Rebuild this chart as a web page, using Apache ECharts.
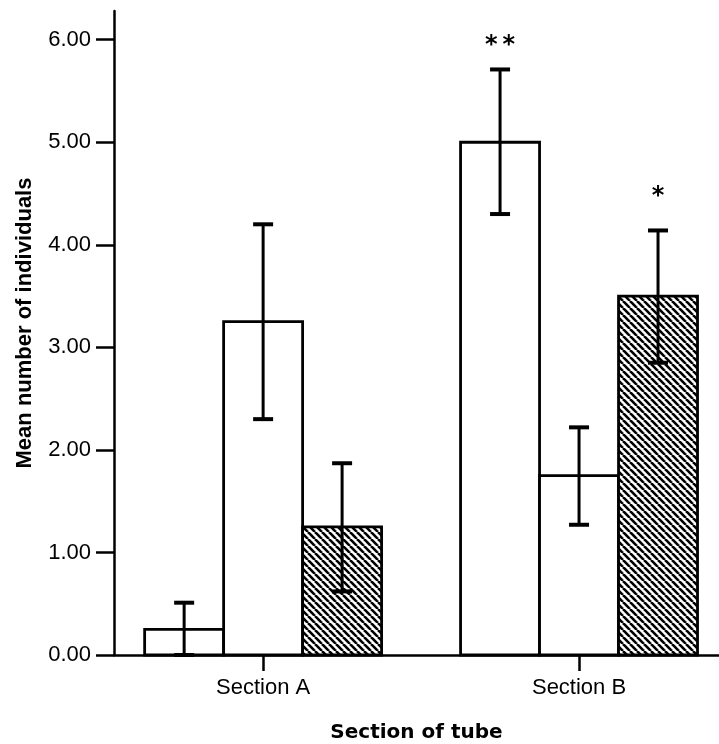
<!DOCTYPE html>
<html>
<head>
<meta charset="utf-8">
<script src="https://cdn.jsdelivr.net/npm/echarts@6/dist/echarts.min.js"></script>
<style>
  html, body { margin: 0; padding: 0; background: #fff; }
  #chart { width: 719px; height: 744px; }
</style>
</head>
<body>
<div id="chart"></div>
<script>
// categories on the x axis
var categories = ['Section A', 'Section B'];
var yTicks = [0, 1, 2, 3, 4, 5, 6];

// three groups of bars per section: mean and error bar ends
var meanG1 = [0.25, 5.00];
var lowG1  = [0.00, 4.30];
var highG1 = [0.51, 5.71];

var meanG2 = [3.25, 1.75];
var lowG2  = [2.30, 1.27];
var highG2 = [4.20, 2.22];

var meanG3 = [1.25, 3.50];
var lowG3  = [0.62, 2.85];
var highG3 = [1.87, 4.14];

// significance marks (text, y value)
var sigG1 = ['', '**'];
var sigY1 = [null, 5.94];
var sigG3 = ['', '*'];
var sigY3 = [null, 4.47];

// hatch pattern for the third group
function makeHatch() {
  var c = document.createElement('canvas');
  var s = 7;
  c.width = s; c.height = s;
  var ctx = c.getContext('2d');
  ctx.fillStyle = '#fff';
  ctx.fillRect(0, 0, s, s);
  ctx.strokeStyle = '#000';
  ctx.lineWidth = 2.6;
  [-s, 0, s].forEach(function (o) {
    ctx.beginPath();
    ctx.moveTo(o, 0);
    ctx.lineTo(o + s, s);
    ctx.stroke();
  });
  return c;
}
var hatch = makeHatch();

var barSpan = 0.25; // width of one bar in x-axis units

function buildData(mean, low, high, sig, sigY) {
  return mean.map(function (m, i) {
    return [i + 1, m, low[i], high[i], sig[i], sigY[i] == null ? -1 : sigY[i]];
  });
}

function renderer(offset, fill) {
  return function (params, api) {
    var cx = api.value(0) + offset * barSpan;
    var w = api.size([barSpan, 0])[0];
    var top = api.coord([cx, api.value(1)]);
    var base = api.coord([cx, 0]);
    var lo = api.coord([cx, api.value(2)]);
    var hi = api.coord([cx, api.value(3)]);
    var cap = 10;
    var children = [{
      type: 'rect',
      shape: { x: top[0] - w / 2, y: top[1], width: w, height: base[1] - top[1] },
      style: { fill: fill, stroke: '#000', lineWidth: 2.8 }
    }, {
      type: 'line',
      shape: { x1: top[0], y1: hi[1], x2: top[0], y2: lo[1] },
      style: { stroke: '#000', lineWidth: 3 }
    }, {
      type: 'line',
      shape: { x1: top[0] - cap, y1: hi[1], x2: top[0] + cap, y2: hi[1] },
      style: { stroke: '#000', lineWidth: 4 }
    }, {
      type: 'line',
      shape: { x1: top[0] - cap, y1: lo[1], x2: top[0] + cap, y2: lo[1] },
      style: { stroke: '#000', lineWidth: 4 }
    }];
    var txt = api.value(4);
    if (txt && api.value(5) >= 0) {
      var p = api.coord([cx, api.value(5)]);
      children.push({
        type: 'text',
        x: p[0], y: p[1],
        style: {
          text: txt.split('').join('\u2009'), fill: '#000',
          font: 'bold 24px "DejaVu Sans"',
          align: 'center', verticalAlign: 'middle'
        }
      });
    }
    return { type: 'group', children: children };
  };
}

var chart = echarts.init(document.getElementById('chart'), null, { renderer: 'canvas' });

var option = {
  backgroundColor: '#fff',
  animation: false,
  grid: { left: 114, right: 0, top: 11, bottom: 89, outerBoundsMode: 'none' },
  xAxis: {
    type: 'value',
    min: 0.528,
    max: 2.443,
    name: 'Section of tube',
    nameLocation: 'middle',
    nameGap: 68,
    nameTextStyle: { fontFamily: 'DejaVu Sans', fontWeight: 'bold', fontSize: 20, color: '#000' },
    splitLine: { show: false },
    axisLine: { show: true, lineStyle: { color: '#000', width: 2.5 } },
    axisTick: { show: true, length: 16, lineStyle: { color: '#000', width: 2.5 }, customValues: [1, 2] },
    axisLabel: {
      customValues: [1, 2],
      margin: 22,
      fontFamily: 'Liberation Sans',
      fontSize: 22,
      color: '#000',
      formatter: function (v) { return categories[Math.round(v) - 1] || ''; }
    }
  },
  yAxis: {
    type: 'value',
    min: 0,
    max: 6.28,
    interval: 1,
    name: 'Mean number of individuals',
    nameLocation: 'middle',
    nameGap: 78,
    nameTextStyle: { fontFamily: 'Liberation Sans', fontWeight: 'bold', fontSize: 22, color: '#000', padding: [0, 0, 0, 20] },
    splitLine: { show: false },
    axisLine: { show: true, lineStyle: { color: '#000', width: 2.5 } },
    axisTick: { show: true, length: 18, lineStyle: { color: '#000', width: 2.5 }, customValues: yTicks },
    axisLabel: {
      customValues: yTicks,
      margin: 23,
      fontFamily: 'Liberation Sans',
      fontSize: 22,
      color: '#000',
      formatter: function (v) { return v.toFixed(2); }
    }
  },
  series: [{
    type: 'custom',
    name: 'g1',
    renderItem: renderer(-1, '#fff'),
    data: buildData(meanG1, lowG1, highG1, sigG1, sigY1),
    z: 2
  }, {
    type: 'custom',
    name: 'g2',
    renderItem: renderer(0, '#fff'),
    data: buildData(meanG2, lowG2, highG2, ['', ''], [null, null]),
    z: 2
  }, {
    type: 'custom',
    name: 'g3',
    renderItem: renderer(1, { image: hatch, repeat: 'repeat' }),
    data: buildData(meanG3, lowG3, highG3, sigG3, sigY3),
    z: 2
  }]
};

chart.setOption(option);
window.addEventListener('resize', function () { chart.resize(); });
</script>
</body>
</html>
